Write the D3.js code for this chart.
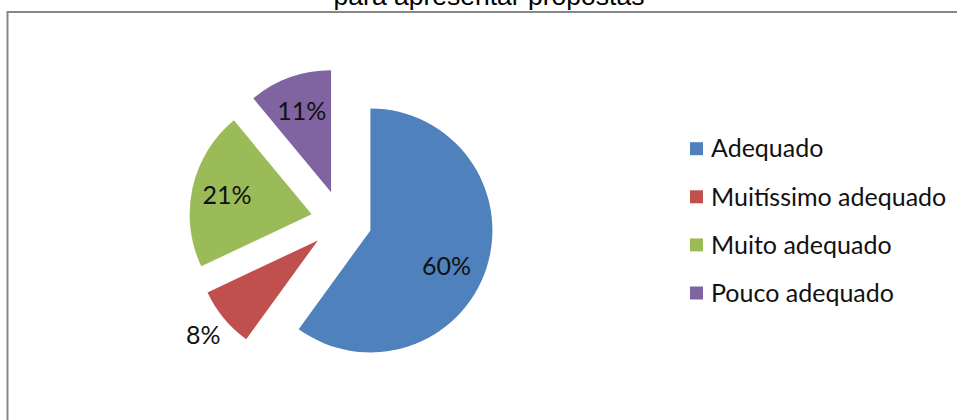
<!DOCTYPE html>
<html>
<head>
<meta charset="utf-8">
<script src="https://cdn.jsdelivr.net/npm/d3@7"></script>
<style>
  html, body { margin: 0; padding: 0; background: #fff; }
  svg { display: block; }
</style>
</head>
<body>
<svg id="chart" width="957" height="420"></svg>
<script>
// Categories and their shares (percent)
const categories = ["Adequado", "Muitíssimo adequado", "Muito adequado", "Pouco adequado"];
const values = [60, 8, 21, 11];
const colors = ["#4F81BD", "#C0504D", "#9BBB59", "#8064A2"];
const titleText = "para apresentar propostas";

const W = 957, H = 420;
const svg = d3.select("#chart");

// Chart area frame (runs past the right and bottom edges)
svg.append("rect")
  .attr("x", 7.5).attr("y", 12)
  .attr("width", W + 20).attr("height", H + 20)
  .attr("fill", "none")
  .attr("stroke", "#878787")
  .attr("stroke-width", 2);

// Title (only its last line shows above the frame)
svg.append("text")
  .attr("x", 489).attr("y", 5)
  .attr("text-anchor", "middle")
  .attr("font-family", "'Liberation Sans', Arial, sans-serif")
  .attr("font-size", 26.5)
  .attr("fill", "#000")
  .text(titleText);

// Pie geometry
const cx = 341.4, cy = 221, radius = 122, explode = 30.5;

const pie = d3.pie().sort(null).value(d => d)
  .startAngle(0).endAngle(2 * Math.PI);
const arcs = pie(values);
const arc = d3.arc().innerRadius(0).outerRadius(radius);

const dir = a => [Math.sin(a), -Math.cos(a)];

const g = svg.append("g").attr("transform", `translate(${cx},${cy})`);

const slice = g.selectAll("g.slice").data(arcs).enter().append("g")
  .attr("class", "slice")
  .attr("transform", d => {
    const m = (d.startAngle + d.endAngle) / 2;
    const [ux, uy] = dir(m);
    return `translate(${ux * explode},${uy * explode})`;
  });

slice.append("path")
  .attr("d", arc)
  .attr("fill", (d, i) => colors[i]);

// Data labels: inside at ~0.7r, small slice label sits outside the rim
const labelRadius = [0.69, 1.22, 0.71, 0.71];
const labelAngleShift = [0.13, 0, 0, 0];
slice.append("text")
  .attr("x", (d, i) => {
    const m = (d.startAngle + d.endAngle) / 2 + labelAngleShift[i];
    return dir(m)[0] * radius * labelRadius[i];
  })
  .attr("y", (d, i) => {
    const m = (d.startAngle + d.endAngle) / 2 + labelAngleShift[i];
    return dir(m)[1] * radius * labelRadius[i];
  })
  .attr("dy", "0.35em")
  .attr("text-anchor", "middle")
  .attr("font-family", "Lato, 'Open Sans', sans-serif")
  .attr("font-size", 25)
  .attr("fill", "#111")
  .text(d => d.data + "%");

// Legend
const legend = svg.append("g");
const rowY = d3.scalePoint().domain(categories).range([148.7, 293]);
const item = legend.selectAll("g").data(categories).enter().append("g")
  .attr("transform", d => `translate(690,${rowY(d)})`);
item.append("rect")
  .attr("x", 0).attr("y", -6.5)
  .attr("width", 13).attr("height", 13)
  .attr("fill", (d, i) => colors[i]);
item.append("text")
  .attr("x", 21).attr("y", 0)
  .attr("dy", "0.35em")
  .attr("font-family", "Lato, 'Open Sans', sans-serif")
  .attr("font-size", 25)
  .attr("fill", "#111")
  .text(d => d);
</script>
</body>
</html>
